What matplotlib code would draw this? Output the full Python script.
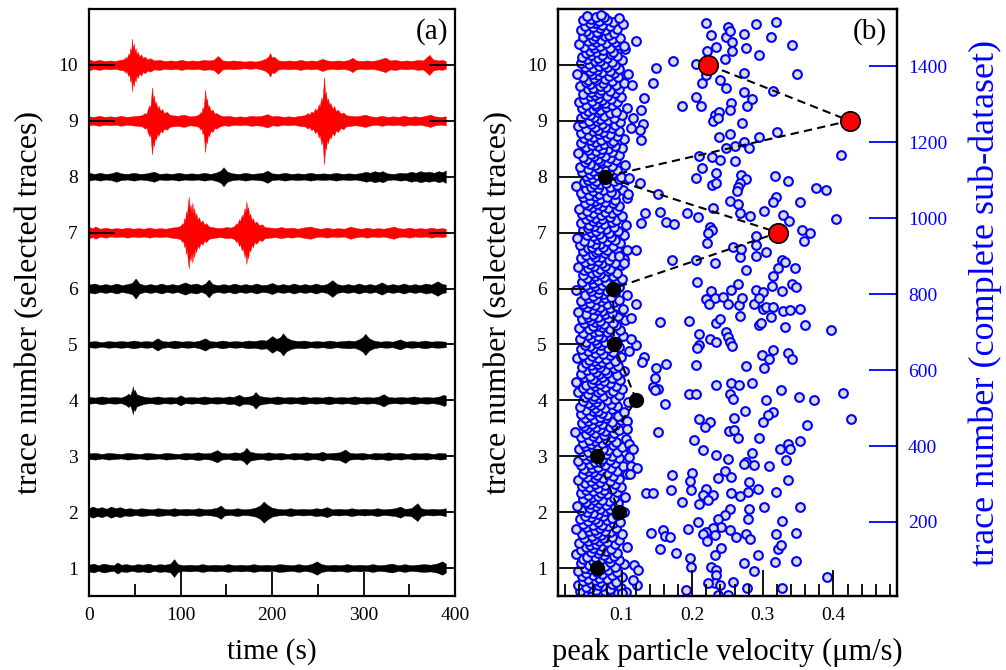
import matplotlib
matplotlib.use('Agg')
import matplotlib.pyplot as plt
import numpy as np
from matplotlib.ticker import MultipleLocator

plt.rcParams['font.family'] = ['Liberation Serif', 'DejaVu Serif']

# ---- panel (a): envelope of each selected trace, (time s, half amplitude in trace units)
env_1 = [(0, .06), (5, .08), (10, .05), (16, .08), (22, .06), (27, .05), (31, .10), (35, .06), (41, .07), (47, .05),
         (53, .07), (59, .06), (65, .08), (71, .05), (77, .07), (83, .06), (89, .08), (93, .16), (97, .07), (103, .05),
         (110, .06), (117, .05), (124, .07), (131, .05), (138, .06), (145, .05), (152, .07), (159, .05), (166, .06),
         (173, .05), (180, .07), (187, .05), (194, .06), (201, .05), (208, .07), (215, .06), (222, .05), (229, .07),
         (236, .05), (243, .07), (249, .12), (254, .07), (261, .05), (268, .06), (275, .05), (282, .07), (289, .05),
         (296, .06), (303, .05), (310, .07), (317, .05), (324, .06), (331, .08), (338, .05), (345, .07), (352, .05),
         (359, .06), (366, .07), (373, .06), (380, .08), (386, .12), (390, .08)]
env_2 = [(0, .07), (4, .10), (9, .07), (14, .09), (19, .06), (24, .10), (29, .07), (34, .09), (39, .06), (45, .07),
         (51, .05), (57, .07), (63, .06), (69, .05), (75, .07), (81, .06), (87, .05), (93, .07), (99, .05), (106, .06),
         (113, .05), (120, .07), (127, .05), (134, .06), (140, .08), (144, .12), (148, .06), (155, .05), (162, .07),
         (169, .05), (176, .06), (182, .08), (187, .12), (191, .19), (195, .13), (200, .08), (206, .06), (213, .05),
         (220, .07), (227, .05), (234, .06), (241, .05), (248, .07), (254, .06), (260, .09), (266, .05), (273, .06),
         (280, .05), (287, .07), (294, .05), (301, .06), (308, .05), (315, .07), (322, .05), (329, .06), (335, .07),
         (340, .10), (345, .06), (352, .07), (359, .16), (363, .07), (369, .05), (376, .06), (383, .05), (390, .07)]
env_3 = [(0, .05), (7, .06), (14, .04), (21, .06), (28, .05), (35, .04), (42, .06), (49, .05), (56, .04), (63, .06),
         (70, .05), (77, .04), (84, .06), (91, .05), (98, .04), (105, .06), (112, .05), (119, .07), (126, .05),
         (133, .06), (140, .11), (145, .06), (152, .05), (159, .07), (165, .06), (169, .09), (172, .15), (176, .08),
         (182, .06), (189, .05), (196, .07), (203, .05), (210, .06), (217, .04), (224, .06), (231, .05), (238, .07),
         (245, .05), (251, .06), (255, .08), (260, .05), (267, .06), (274, .07), (280, .12), (285, .06), (292, .05),
         (299, .06), (306, .04), (313, .06), (320, .05), (327, .07), (334, .05), (341, .06), (348, .04), (355, .06),
         (362, .05), (369, .06), (376, .04), (383, .06), (390, .05)]
env_4 = [(0, .06), (7, .05), (14, .07), (21, .05), (28, .06), (35, .05), (40, .08), (43, .12), (45, .09), (47, .18),
         (48, .25), (49, .15), (50, .19), (52, .11), (55, .09), (61, .06), (68, .05), (75, .07), (82, .05), (89, .06),
         (95, .05), (100, .09), (105, .05), (112, .06), (119, .05), (126, .07), (133, .05), (140, .06), (147, .05),
         (153, .07), (158, .06), (164, .10), (169, .06), (175, .07), (179, .09), (182, .15), (186, .08), (192, .06),
         (199, .05), (206, .07), (213, .05), (220, .06), (227, .05), (234, .07), (241, .05), (248, .06), (255, .05),
         (262, .07), (269, .05), (276, .06), (283, .05), (290, .07), (297, .05), (304, .06), (311, .05), (317, .07),
         (322, .11), (327, .06), (334, .05), (341, .06), (348, .05), (355, .07), (362, .05), (369, .06), (376, .05),
         (383, .07), (388, .10), (390, .08)]
env_5 = [(0, .05), (7, .06), (14, .04), (21, .06), (28, .05), (35, .06), (42, .05), (49, .07), (56, .05), (63, .06),
         (69, .05), (75, .11), (80, .06), (87, .05), (94, .07), (101, .05), (108, .06), (115, .05), (121, .07),
         (127, .11), (132, .06), (139, .05), (146, .07), (153, .05), (160, .06), (167, .05), (174, .07), (181, .06),
         (188, .08), (194, .07), (200, .15), (205, .10), (209, .13), (212, .20), (216, .12), (221, .08), (228, .06),
         (235, .07), (242, .05), (249, .06), (256, .05), (263, .07), (270, .05), (277, .06), (284, .07), (290, .06),
         (295, .09), (299, .13), (302, .19), (306, .11), (311, .07), (318, .05), (325, .06), (332, .05), (340, .09),
         (346, .05), (353, .06), (360, .05), (367, .07), (374, .05), (381, .06), (390, .05)]
env_6 = [(0, .07), (6, .09), (12, .06), (18, .08), (24, .06), (30, .09), (36, .06), (42, .08), (47, .10), (51, .18),
         (55, .09), (61, .06), (67, .08), (73, .06), (79, .09), (85, .06), (91, .08), (97, .06), (105, .11), (111, .07),
         (117, .09), (123, .06), (127, .09), (131, .16), (135, .08), (141, .06), (147, .08), (153, .06), (159, .09),
         (165, .06), (171, .08), (177, .06), (183, .09), (189, .06), (195, .07), (200, .10), (206, .06), (212, .08),
         (218, .06), (224, .09), (230, .06), (236, .08), (242, .06), (248, .09), (254, .06), (260, .08), (266, .15),
         (271, .08), (277, .06), (283, .08), (289, .06), (295, .09), (301, .06), (307, .08), (313, .06), (320, .11),
         (326, .06), (332, .08), (338, .06), (344, .09), (350, .06), (356, .08), (362, .06), (368, .09), (374, .07),
         (381, .13), (386, .08), (390, .07)]
env_7 = [(0, .10), (4, .08), (7, .11), (12, .07), (18, .09), (24, .07), (30, .08), (36, .07), (42, .09), (48, .07),
         (54, .08), (60, .07), (66, .09), (72, .07), (78, .08), (84, .07), (90, .09), (96, .10), (100, .12),
         (102, .17), (103, .14), (104, .26), (105, .20), (106, .38), (107, .30), (108, .50), (109, .64), (110, .42),
         (111, .50), (112, .36), (113, .54), (114, .34), (115, .44), (116, .28), (117, .35), (119, .22), (120, .28),
         (122, .18), (124, .22), (126, .14), (128, .17), (131, .11), (138, .09), (144, .08), (150, .10), (155, .09),
         (159, .12), (161, .17), (162, .14), (164, .24), (165, .20), (167, .32), (168, .26), (170, .44), (171, .36),
         (172, .56), (173, .40), (174, .46), (175, .30), (176, .34), (178, .22), (179, .26), (181, .17), (183, .20),
         (186, .13), (189, .15), (192, .10), (198, .09), (204, .08), (210, .10), (216, .08), (222, .09), (228, .07),
         (234, .09), (242, .11), (248, .08), (254, .07), (260, .09), (266, .07), (272, .08), (279, .07), (286, .11),
         (292, .08), (298, .07), (304, .09), (310, .07), (316, .08), (322, .07), (328, .09), (333, .11), (338, .08),
         (344, .07), (350, .09), (356, .07), (362, .08), (368, .07), (374, .09), (380, .07), (386, .08), (390, .07)]
env_8 = [(0, .07), (6, .05), (12, .07), (18, .05), (24, .06), (30, .09), (35, .06), (42, .05), (49, .07), (56, .05),
         (63, .06), (71, .09), (77, .05), (84, .06), (91, .05), (98, .07), (105, .05), (112, .06), (119, .05),
         (126, .07), (133, .05), (140, .08), (144, .11), (147, .17), (151, .09), (157, .06), (164, .05), (171, .07),
         (178, .05), (185, .06), (190, .07), (195, .11), (200, .06), (207, .05), (214, .07), (221, .05), (228, .06),
         (235, .05), (242, .07), (249, .05), (256, .06), (263, .05), (270, .07), (277, .05), (284, .06), (291, .05),
         (298, .07), (303, .09), (307, .07), (312, .10), (317, .08), (321, .10), (326, .06), (333, .05), (340, .07),
         (346, .06), (352, .09), (357, .07), (362, .10), (367, .08), (372, .09), (377, .07), (382, .10), (386, .08),
         (390, .11)]
env_9 = [(0, .08), (5, .07), (11, .09), (17, .07), (23, .08), (29, .07), (35, .09), (41, .07), (47, .08), (53, .09),
         (58, .10), (61, .14), (63, .12), (64, .20), (66, .28), (67, .22), (68, .42), (69, .60), (70, .38), (71, .45),
         (72, .30), (73, .34), (75, .22), (76, .27), (78, .18), (80, .21), (82, .14), (85, .16), (88, .11), (91, .10),
         (97, .09), (104, .11), (110, .08), (116, .09), (120, .11), (122, .16), (123, .13), (124, .24), (125, .20),
         (126, .36), (127, .56), (128, .34), (129, .40), (130, .24), (131, .28), (133, .18), (135, .20), (137, .13),
         (139, .14), (143, .10), (147, .08), (153, .09), (159, .07), (165, .08), (171, .07), (177, .09), (183, .08),
         (189, .09), (195, .12), (200, .08), (206, .09), (212, .07), (218, .08), (224, .07), (230, .09), (236, .10),
         (239, .14), (241, .11), (243, .17), (245, .14), (247, .22), (249, .18), (251, .30), (252, .24), (254, .42),
         (255, .34), (256, .55), (257, .78), (258, .46), (259, .52), (260, .34), (261, .40), (263, .28), (264, .32),
         (266, .22), (268, .26), (270, .17), (272, .20), (275, .13), (278, .15), (281, .10), (286, .09), (291, .08),
         (296, .09), (302, .11), (308, .08), (314, .07), (320, .09), (326, .07), (332, .08), (338, .07), (344, .09),
         (350, .07), (356, .08), (362, .07), (368, .09), (373, .11), (378, .08), (384, .07), (390, .08)]
env_10 = [(0, .10), (5, .07), (11, .09), (17, .07), (23, .08), (29, .07), (34, .09), (38, .10), (40, .14), (41, .11),
          (43, .20), (44, .16), (45, .30), (46, .22), (47, .47), (48, .28), (49, .38), (50, .24), (51, .30), (52, .18),
          (53, .24), (55, .15), (57, .19), (59, .12), (61, .15), (64, .10), (67, .12), (71, .08), (77, .09), (83, .07),
          (89, .08), (95, .07), (101, .09), (107, .07), (113, .08), (119, .07), (125, .09), (131, .08), (136, .09),
          (141, .16), (146, .08), (152, .07), (158, .08), (164, .07), (170, .06), (176, .07), (182, .06), (188, .08),
          (193, .11), (196, .15), (198, .21), (200, .13), (202, .15), (207, .08), (213, .07), (219, .08), (225, .07),
          (231, .09), (237, .07), (243, .08), (249, .07), (255, .11), (260, .08), (266, .07), (272, .08), (278, .07),
          (284, .09), (288, .13), (292, .08), (298, .07), (304, .08), (310, .07), (316, .09), (324, .13), (329, .08),
          (335, .09), (341, .07), (347, .08), (353, .07), (359, .09), (365, .08), (372, .18), (376, .10), (382, .08),
          (386, .09), (390, .07)]
trace_envelopes = [env_1, env_2, env_3, env_4, env_5, env_6, env_7, env_8, env_9, env_10]
trace_colors = ['black', 'black', 'black', 'black', 'black', 'black', 'red', 'black', 'red', 'red']

# ---- panel (b): the ten selected traces
selected_trace = [1, 2, 3, 4, 5, 6, 7, 8, 9, 10]
selected_ppv = [0.065, 0.097, 0.065, 0.121, 0.089, 0.088, 0.322, 0.076, 0.423, 0.223]
selected_red = [False, False, False, False, False, False, True, False, True, True]

# bulk of the complete sub-dataset, traces 1, 3, 5, ... (ppv in nm/s)
band_trace = np.arange(1, 1536, 2)
band_ppv_nm = [
    61, 74, 52, 88, 47, 69, 95, 58, 41, 77, 64, 83, 55, 99, 49, 72, 66, 38, 86, 57, 70, 92, 45, 63,
    79, 53, 68, 101, 44, 60, 87, 73, 50, 94, 65, 39, 81, 56, 71, 48, 90, 62, 76, 54, 104, 67, 43, 84,
    59, 97, 70, 46, 82, 63, 51, 89, 75, 36, 66, 93, 57, 78, 42, 69, 85, 60, 107, 49, 73, 55, 91, 64,
    40, 80, 68, 52, 96, 61, 74, 47, 87, 58, 71, 100, 44, 65, 83, 54, 77, 62, 35, 92, 69, 50, 81, 59,
    72, 45, 88, 66, 98, 53, 79, 41, 63, 86, 57, 74, 48, 94, 67, 60, 103, 51, 76, 43, 84, 70, 56, 90,
    64, 37, 78, 55, 95, 68, 49, 82, 61, 73, 46, 89, 58, 105, 66, 52, 80, 42, 71, 93, 59, 75, 50, 86,
    67, 99, 54, 44, 77, 63, 91, 48, 70, 84, 57, 39, 96, 62, 74, 51, 88, 65, 108, 45, 79, 60, 53, 93,
    71, 47, 85, 58, 66, 102, 43, 76, 55, 90, 62, 69, 38, 83, 50, 73, 97, 61, 56, 87, 46, 78, 64, 94,
    52, 68, 81, 40, 74, 59, 100, 65, 48, 88, 57, 72, 45, 92, 63, 79, 54, 106, 67, 42, 85, 60, 75, 49,
    89, 62, 34, 77, 56, 96, 70, 51, 83, 64, 47, 91, 58, 73, 44, 86, 66, 53, 99, 61, 78, 48, 69, 95,
    55, 80, 43, 72, 104, 59, 67, 50, 87, 63, 76, 41, 94, 57, 70, 85, 52, 64, 109, 46, 79, 60, 90, 68,
    48, 74, 61, 97, 53, 83, 66, 39, 88, 71, 56, 101, 45, 77, 62, 92, 50, 69, 84, 58, 36, 75, 65, 98,
    60, 86, 47, 73, 55, 93, 68, 42, 80, 64, 103, 51, 76, 59, 89, 44, 70, 95, 57, 66, 82, 49, 72, 61,
    91, 54, 78, 37, 67, 99, 58, 84, 46, 74, 63, 88, 52, 110, 69, 43, 81, 60, 96, 56, 71, 48, 87, 65,
    50, 76, 94, 62, 41, 85, 57, 73, 102, 66, 53, 90, 45, 79, 61, 68, 98, 54, 83, 40, 72, 64, 59, 92,
    75, 47, 88, 63, 70, 56, 105, 44, 81, 67, 52, 95, 60, 77, 49, 86, 38, 73, 65, 100, 58, 84, 51, 69,
    93, 62, 46, 79, 55, 89, 71, 42, 97, 64, 76, 53, 85, 59, 107, 48, 74, 66, 91, 57, 80, 35, 68, 83,
    54, 96, 63, 72, 49, 87, 60, 78, 44, 92, 67, 56, 101, 51, 75, 62, 88, 45, 70, 58, 94, 65, 81, 47,
    69, 84, 52, 39, 77, 61, 99, 55, 73, 90, 48, 66, 82, 57, 104, 43, 71, 63, 86, 50, 96, 59, 76, 64,
    45, 80, 67, 93, 53, 74, 58, 88, 41, 70, 62, 98, 56, 79, 47, 91, 65, 72, 37, 85, 60, 103, 51, 68,
    82, 57, 95, 64, 46, 78, 69, 52, 89, 61, 106, 54, 75, 43, 87, 66, 59, 92, 49, 73, 63, 84, 56, 100,
    71, 44, 86, 60, 77, 51, 94, 67, 40, 81, 58, 72, 97, 53, 65, 88, 48, 76, 62, 90, 55, 69, 108, 46,
    79, 63, 54, 91, 68, 42, 85, 59, 74, 102, 50, 66, 83, 57, 36, 93, 70, 61, 78, 47, 89, 64, 52, 96,
    58, 75, 99, 49, 82, 65, 56, 88, 44, 71, 60, 94, 53, 77, 67, 41, 86, 62, 105, 55, 73, 48, 80, 69,
    92, 51, 67, 84, 45, 76, 61, 97, 57, 70, 39, 87, 64, 53, 81, 72, 100, 49, 66, 90, 58, 75, 43, 85,
    63, 88, 55, 71, 104, 47, 79, 60, 93, 52, 68, 83, 42, 74, 59, 96, 66, 50, 86, 62, 77, 38, 91, 57,
    73, 46, 98, 65, 54, 81, 69, 43, 89, 61, 75, 56, 101, 48, 84, 67, 92, 53, 70, 59, 107, 44, 78, 64,
    50, 87, 62, 76, 40, 94, 58, 72, 85, 47, 66, 99, 55, 80, 63, 45, 90, 68, 57, 83, 71, 52, 96, 60,
    78, 41, 69, 92, 56, 74, 103, 49, 86, 64, 53, 77, 61, 95, 46, 82, 67, 58, 37, 89, 73, 55, 84, 65,
    97, 59, 48, 80, 68, 90, 54, 75, 43, 87, 62, 70, 100, 51, 79, 66, 44, 93, 57, 72, 85, 49, 64, 88,
    56, 74, 105, 61, 83, 47, 69, 95, 58, 40, 78, 64, 91, 52, 71, 86, 60, 98, 45, 76, 63, 82, 54, 67,
    89, 65, 50, 77, 42, 94, 70, 59, 84, 48, 73, 102, 62, 55, 88, 68, 46, 80, 57, 96, 64, 75, 51, 71,
]

# traces of the sub-dataset away from the bulk, (ppv um/s, trace number)
sparse_points = [
    (0.219, 1514), (0.251, 1503), (0.290, 1511), (0.319, 1518), (0.227, 1483), (0.248, 1476), (0.254, 1492),
    (0.273, 1486), (0.311, 1477), (0.256, 1463), (0.234, 1450), (0.221, 1441), (0.257, 1441), (0.276, 1448),
    (0.295, 1431), (0.342, 1457), (0.120, 1468), (0.104, 1453), (0.173, 1415), (0.149, 1396), (0.206, 1406),
    (0.247, 1418), (0.273, 1382), (0.349, 1380), (0.220, 1378), (0.240, 1365), (0.214, 1356), (0.248, 1343),
    (0.273, 1332), (0.284, 1315), (0.314, 1336), (0.132, 1316), (0.144, 1356), (0.115, 1352), (0.109, 1380),
    (0.206, 1318), (0.185, 1295), (0.255, 1303), (0.277, 1295),
    (0.212, 1296), (0.232, 1272), (0.238, 1279), (0.229, 1256), (0.236, 1263), (0.254, 1285), (0.271, 1250),
    (0.128, 1285), (0.130, 1247), (0.116, 1263), (0.114, 1237), (0.128, 1206), (0.126, 1232), (0.238, 1215),
    (0.253, 1221), (0.294, 1215), (0.320, 1228), (0.274, 1200), (0.261, 1191), (0.248, 1186), (0.281, 1184),
    (0.209, 1165), (0.228, 1162), (0.240, 1153), (0.260, 1150), (0.410, 1166), (0.214, 1131), (0.206, 1107),
    (0.234, 1118), (0.228, 1087), (0.234, 1094), (0.269, 1114), (0.276, 1103), (0.267, 1092), (0.265, 1083),
    (0.263, 1071), (0.317, 1111), (0.335, 1098), (0.375, 1080), (0.390, 1074), (0.152, 1065), (0.126, 1093),
    (0.111, 1105), (0.109, 1065), (0.253, 1045), (0.319, 1057), (0.314, 1043), (0.352, 1042),
    (0.265, 1037), (0.229, 1028), (0.133, 1014), (0.155, 1017), (0.163, 991), (0.174, 986), (0.192, 1014),
    (0.208, 1002), (0.128, 988), (0.225, 977), (0.228, 969), (0.222, 962), (0.221, 934), (0.268, 1013),
    (0.282, 1006), (0.302, 1020), (0.329, 1008), (0.337, 993), (0.355, 969), (0.367, 960), (0.358, 941),
    (0.291, 953), (0.291, 929), (0.304, 912), (0.290, 900), (0.267, 897), (0.258, 925), (0.269, 920),
    (0.232, 883), (0.206, 891), (0.172, 890), (0.276, 863), (0.327, 890), (0.331, 885), (0.321, 868),
    (0.346, 869), (0.314, 848), (0.207, 833), (0.265, 828), (0.255, 812), (0.227, 809), (0.290, 812),
    (0.313, 821), (0.300, 806), (0.327, 809), (0.341, 826), (0.347, 819), (0.403, 999), (0.121, 916),
    (0.107, 916), (0.104, 881), (0.097, 900),
    (0.219, 787), (0.232, 790), (0.243, 793), (0.251, 775), (0.224, 773), (0.266, 771), (0.271, 790),
    (0.288, 773), (0.294, 789), (0.300, 761), (0.305, 767), (0.314, 767), (0.312, 740), (0.328, 755),
    (0.339, 758), (0.353, 762), (0.294, 720), (0.298, 723), (0.331, 714), (0.360, 718), (0.396, 705),
    (0.234, 725), (0.239, 734), (0.267, 743), (0.196, 729), (0.155, 727), (0.114, 738), (0.120, 773),
    (0.102, 761), (0.210, 694), (0.225, 682), (0.234, 675), (0.248, 701), (0.250, 688), (0.253, 675),
    (0.257, 663), (0.210, 666), (0.207, 657), (0.314, 654), (0.299, 639), (0.309, 629), (0.301, 606),
    (0.335, 644), (0.342, 629), (0.276, 611), (0.205, 613), (0.163, 617), (0.149, 606), (0.147, 580),
    (0.144, 556), (0.152, 550), (0.132, 635), (0.129, 622), (0.120, 666), (0.114, 683), (0.234, 562),
    (0.255, 567), (0.266, 560), (0.284, 567),
    (0.196, 538), (0.206, 538), (0.253, 536), (0.258, 525), (0.326, 547), (0.351, 529), (0.373, 521),
    (0.413, 540), (0.147, 547), (0.162, 510), (0.152, 437), (0.210, 470), (0.225, 464), (0.218, 450),
    (0.259, 475), (0.252, 440), (0.259, 442), (0.265, 420), (0.275, 493), (0.305, 521), (0.314, 490),
    (0.307, 481), (0.300, 464), (0.295, 422), (0.324, 391), (0.335, 405), (0.339, 393), (0.352, 414),
    (0.362, 455), (0.425, 470), (0.203, 415), (0.216, 389), (0.234, 376), (0.251, 367), (0.276, 358),
    (0.274, 352), (0.284, 382), (0.287, 349), (0.309, 347), (0.333, 363), (0.172, 323), (0.200, 329),
    (0.197, 308), (0.236, 317), (0.246, 335), (0.255, 319), (0.281, 306), (0.335, 310), (0.107, 466),
    (0.108, 446), (0.110, 405), (0.114, 389), (0.110, 371), (0.116, 391), (0.114, 347), (0.122, 341),
    (0.112, 326),
    (0.134, 275), (0.145, 275), (0.170, 284), (0.199, 284), (0.220, 288), (0.216, 272), (0.229, 272),
    (0.222, 257), (0.209, 248), (0.185, 253), (0.255, 275), (0.267, 269), (0.279, 279), (0.293, 288),
    (0.319, 279), (0.352, 240), (0.301, 240), (0.281, 233), (0.279, 209), (0.253, 233), (0.247, 219),
    (0.236, 207), (0.241, 187), (0.253, 178), (0.262, 161), (0.276, 167), (0.282, 156), (0.229, 184),
    (0.232, 165), (0.220, 174), (0.216, 167), (0.221, 149), (0.208, 200), (0.194, 181), (0.142, 172),
    (0.158, 178), (0.161, 163), (0.169, 161), (0.154, 128), (0.177, 117), (0.197, 105), (0.199, 82),
    (0.227, 82), (0.232, 114), (0.241, 132), (0.234, 73), (0.234, 61), (0.232, 38), (0.222, 40),
    (0.239, 33), (0.258, 42), (0.274, 93), (0.293, 112), (0.287, 70), (0.317, 95), (0.319, 169),
    (0.327, 202), (0.347, 172), (0.321, 128), (0.326, 139), (0.347, 97), (0.391, 55), (0.327, 26),
    (0.191, 20), (0.122, 33), (0.116, 46), (0.118, 86), (0.123, 73), (0.237, 7), (0.250, 7), (0.278, 25),
    (0.106, 15), (0.100, 14),
]

fig = plt.figure(figsize=(10.06, 6.70), dpi=100)
W, H = 1006, 670
ax_a = fig.add_axes([89 / W, 1 - 596 / H, 366 / W, 587 / H])
ax_b = fig.add_axes([558 / W, 1 - 596 / H, 339 / W, 587 / H])
ax_r = ax_b.twinx()

for k, env in enumerate(trace_envelopes):
    t = np.array([p[0] for p in env])
    a = np.array([p[1] for p in env])
    c = trace_colors[k]
    ax_a.fill_between(t, k + 1 - a, k + 1 + a, color=c, edgecolor=c, lw=0.3)

ax_a.set_xlim(0, 400)
ax_a.set_ylim(0.5, 11)
ax_a.set_yticks(range(1, 11))
ax_a.xaxis.set_major_locator(MultipleLocator(100))
ax_a.xaxis.set_minor_locator(MultipleLocator(50))
ax_a.tick_params(axis='y', direction='in', length=19, width=1.3, left=True, right=True, labelsize=14, pad=8)
ax_a.tick_params(axis='x', which='major', direction='in', length=17, width=1.3, labelsize=14, pad=8)
ax_a.tick_params(axis='x', which='minor', direction='in', length=9, width=1.3)
ax_a.set_xlabel('time (s)', fontsize=21, labelpad=10)
ax_a.set_ylabel('trace number (selected traces)', fontsize=23, labelpad=10)
ax_a.text(0.982, 0.985, '(a)', transform=ax_a.transAxes, ha='right', va='top', fontsize=21)

# complete sub-dataset on the right axis
ax_r.plot(np.array(band_ppv_nm) / 1000, band_trace, 'o', ms=6.3, mfc='#dcdcdc', mec='blue', mew=1.5, ls='none')
ax_r.plot([p[0] for p in sparse_points], [p[1] for p in sparse_points], 'o', ms=6.3, mfc='#dcdcdc',
          mec='blue', mew=1.5, ls='none')
ax_r.set_ylim(5, 1551)
ax_r.set_yticks(range(200, 1401, 200))
ax_r.tick_params(axis='y', direction='in', length=20, width=1.3, colors='blue', labelsize=14, pad=8)
ax_r.set_ylabel('trace number (complete sub-dataset)', color='blue', fontsize=26, labelpad=15)

# selected traces on top
ax_b.set_zorder(ax_r.get_zorder() + 1)
ax_b.patch.set_visible(False)
ax_b.plot(selected_ppv, selected_trace, color='black', lw=1.5, ls=(0, (4, 2.5)))
for x, y, red in zip(selected_ppv, selected_trace, selected_red):
    if red:
        ax_b.plot(x, y, 'o', ms=14, mfc='red', mec='black', mew=1.2)
    else:
        ax_b.plot(x, y, 'o', ms=10, color='black')
ax_b.set_xlim(0.01, 0.49)
ax_b.set_ylim(0.5, 11)
ax_b.set_yticks(range(1, 11))
ax_b.xaxis.set_major_locator(MultipleLocator(0.1))
ax_b.xaxis.set_minor_locator(MultipleLocator(0.02))
ax_b.tick_params(axis='y', direction='in', length=19, width=1.3, right=False, labelsize=14, pad=8)
ax_b.tick_params(axis='x', which='major', direction='in', length=19, width=1.3, labelsize=14, pad=8)
ax_b.tick_params(axis='x', which='minor', direction='in', length=9, width=1.3)
ax_b.set_xlabel('peak particle velocity (μm/s)', fontsize=22, labelpad=10)
ax_b.set_ylabel('trace number (selected traces)', fontsize=23, labelpad=10)
ax_b.text(0.97, 0.985, '(b)', transform=ax_b.transAxes, ha='right', va='top', fontsize=21)

for ax in (ax_a, ax_b, ax_r):
    for s in ax.spines.values():
        s.set_linewidth(1.6)

fig.savefig('out.png', dpi=100)
